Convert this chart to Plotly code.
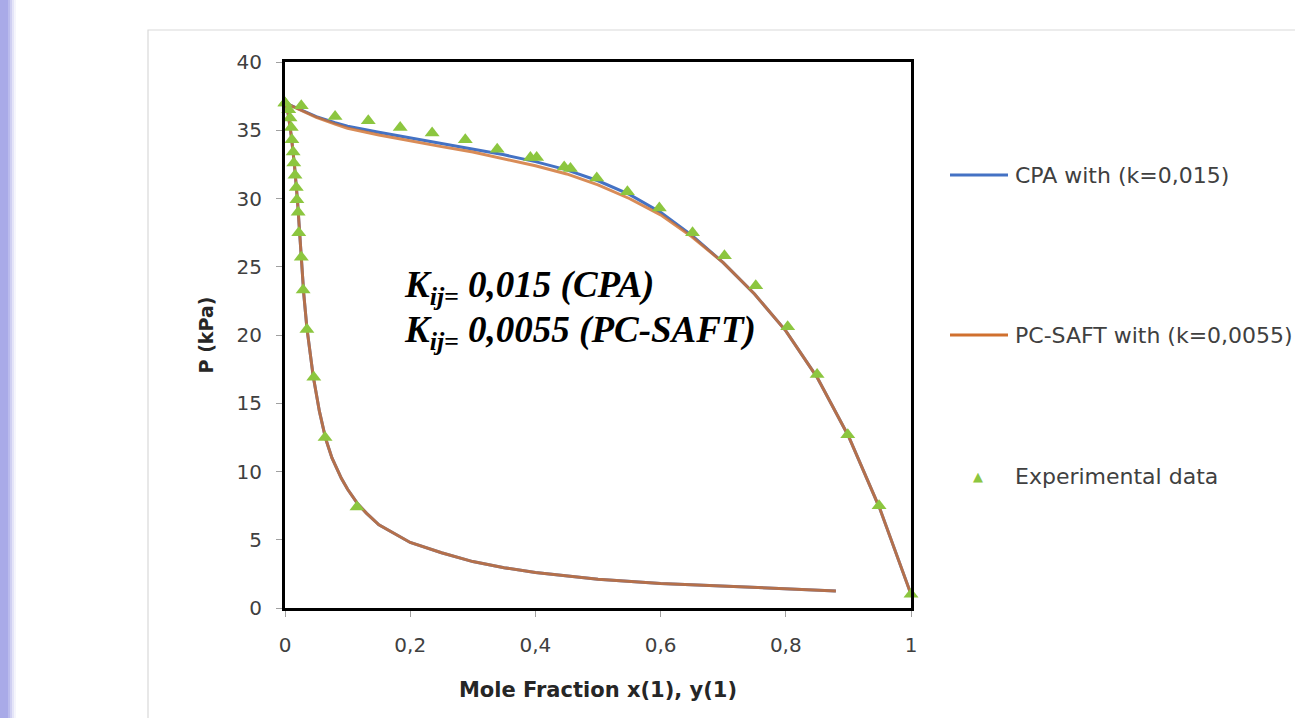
import plotly.graph_objects as go

# ---- Model curves: bubble branch P(x1) ----
bub_x = [0.0, 0.02, 0.05, 0.08, 0.10, 0.15, 0.20, 0.25, 0.30, 0.35, 0.40, 0.45,
         0.50, 0.55, 0.60, 0.65, 0.70, 0.75, 0.80, 0.85, 0.90, 0.95, 1.0]
cpa_bub_p = [37.0, 36.6, 36.0, 35.55, 35.3, 34.85, 34.45, 34.05, 33.65, 33.2, 32.7, 32.1,
             31.3, 30.3, 29.0, 27.3, 25.3, 23.0, 20.3, 16.9, 12.6, 7.3, 1.0]
saft_bub_p = [37.0, 36.6, 35.95, 35.45, 35.15, 34.65, 34.2, 33.8, 33.4, 32.9, 32.4, 31.8,
              31.0, 30.0, 28.8, 27.2, 25.3, 23.0, 20.3, 16.9, 12.6, 7.3, 1.0]

# ---- Model curves: dew branch P(y1) ----
dew_y = [0.0, 0.005, 0.01, 0.015, 0.02, 0.025, 0.03, 0.035, 0.045, 0.055, 0.065, 0.075,
         0.09, 0.10, 0.115, 0.13, 0.15, 0.20, 0.25, 0.30, 0.35, 0.40, 0.50, 0.60, 0.70,
         0.80, 0.88]
cpa_dew_p = [37.0, 36.2, 34.6, 32.5, 29.8, 26.3, 23.0, 20.5, 17.0, 14.4, 12.4, 11.0,
             9.5, 8.7, 7.7, 6.95, 6.1, 4.8, 4.05, 3.4, 2.95, 2.6, 2.1, 1.8, 1.6,
             1.4, 1.25]
saft_dew_p = [37.0, 36.2, 34.6, 32.5, 29.8, 26.3, 23.0, 20.5, 17.0, 14.4, 12.4, 11.0,
              9.5, 8.7, 7.7, 6.95, 6.1, 4.8, 4.05, 3.4, 2.95, 2.6, 2.1, 1.8, 1.6,
              1.4, 1.25]

# ---- Experimental data ----
exp_bub_x = [0.0, 0.026, 0.08, 0.133, 0.184, 0.235, 0.288, 0.339, 0.392, 0.402, 0.446,
             0.456, 0.498, 0.547, 0.598, 0.651, 0.702, 0.752, 0.803, 0.85, 0.899, 0.949, 1.0]
exp_bub_p = [37.0, 36.8, 36.0, 35.7, 35.2, 34.8, 34.3, 33.6, 33.0, 33.0, 32.3,
             32.2, 31.5, 30.5, 29.3, 27.5, 25.8, 23.6, 20.6, 17.1, 12.7, 7.5, 1.0]
exp_dew_y = [0.0, 0.006, 0.008, 0.010, 0.011, 0.013, 0.014, 0.016, 0.018, 0.019, 0.021,
             0.022, 0.026, 0.029, 0.035, 0.046, 0.064, 0.115]
exp_dew_p = [37.0, 36.5, 35.9, 35.2, 34.3, 33.4, 32.6, 31.7, 30.8, 29.9, 29.0,
             27.5, 25.7, 23.3, 20.4, 16.9, 12.5, 7.4]

x_ticks = [0, 0.2, 0.4, 0.6, 0.8, 1]
x_tick_text = ["0", "0,2", "0,4", "0,6", "0,8", "1"]
y_ticks = [0, 5, 10, 15, 20, 25, 30, 35, 40]

legend_labels = ["CPA with (k=0,015)", "PC-SAFT with (k=0,0055)", "Experimental data"]

BLUE = "#4472C4"
ORANGE = "#D0702E"
GREEN = "#8CC63F"

W, H = 1295, 718
L, R, T, B = 285, 911, 62, 608   # plot area edges in pixels


def px(xp):
    return (xp - L) / (R - L)


def py(yp):
    return (B - yp) / (B - T)


fig = go.Figure()

fig.add_trace(go.Scatter(
    x=bub_x + [None] + dew_y, y=cpa_bub_p + [None] + cpa_dew_p,
    mode="lines", line=dict(color=BLUE, width=3), name=legend_labels[0],
    showlegend=False, cliponaxis=False))
fig.add_trace(go.Scatter(
    x=bub_x + [None] + dew_y, y=saft_bub_p + [None] + saft_dew_p,
    mode="lines", line=dict(color=ORANGE, width=3), opacity=0.8, name=legend_labels[1],
    showlegend=False, cliponaxis=False))
fig.add_trace(go.Scatter(
    x=exp_bub_x + exp_dew_y, y=exp_bub_p + exp_dew_p,
    mode="markers", marker=dict(symbol="triangle-up", size=13, color=GREEN),
    name=legend_labels[2], showlegend=False, cliponaxis=False))

shapes = []
# soft lavender strip along the left page edge
strip = [(0, 8, 1.0), (8, 10, 0.8), (10, 12, 0.55), (12, 14, 0.3), (14, 16, 0.12)]
for x0, x1, op in strip:
    shapes.append(dict(type="rect", xref="paper", yref="paper",
                       x0=px(x0), x1=px(x1), y0=py(H), y1=py(0),
                       fillcolor="#A9AAE8", opacity=op, line=dict(width=0), layer="below"))
# chart-area frame
shapes.append(dict(type="rect", xref="paper", yref="paper",
                   x0=px(148), x1=px(W + 5), y0=py(H + 5), y1=py(30),
                   line=dict(color="#D9D9D9", width=1.2), fillcolor="rgba(0,0,0,0)",
                   layer="below"))
# legend keys
shapes.append(dict(type="line", xref="paper", yref="paper",
                   x0=px(950), x1=px(1008), y0=py(175), y1=py(175),
                   line=dict(color=BLUE, width=3)))
shapes.append(dict(type="line", xref="paper", yref="paper",
                   x0=px(950), x1=px(1008), y0=py(335), y1=py(335),
                   line=dict(color=ORANGE, width=3)))

legend_font = dict(family="DejaVu Sans", size=22, color="#404040")
kij_font = dict(family="Liberation Serif", size=37, color="black")
annotations = [
    dict(xref="paper", yref="paper", x=px(1013), y=py(175), xanchor="left", yanchor="middle",
         text=legend_labels[0], showarrow=False, font=legend_font),
    dict(xref="paper", yref="paper", x=px(1013), y=py(335), xanchor="left", yanchor="middle",
         text=legend_labels[1], showarrow=False, font=legend_font),
    dict(xref="paper", yref="paper", x=px(1013), y=py(476), xanchor="left", yanchor="middle",
         text=legend_labels[2], showarrow=False, font=legend_font),
    dict(xref="paper", yref="paper", x=px(978), y=py(476), xanchor="center", yanchor="middle",
         text="▲", showarrow=False, font=dict(family="DejaVu Sans", size=13, color=GREEN)),
    # binary interaction parameters
    dict(xref="paper", yref="paper", x=px(402), y=py(287), xanchor="left", yanchor="middle",
         text="<b><i>K<sub>ij=</sub> 0,015 (CPA)</i></b>", showarrow=False, font=kij_font),
    dict(xref="paper", yref="paper", x=px(402), y=py(332), xanchor="left", yanchor="middle",
         text="<b><i>K<sub>ij=</sub> 0,0055 (PC-SAFT)</i></b>", showarrow=False, font=kij_font),
]

tick_font = dict(family="DejaVu Sans", size=20, color="#404040")

fig.update_layout(
    width=W, height=H,
    margin=dict(l=L, r=W - R, t=T, b=H - B),
    paper_bgcolor="white", plot_bgcolor="white",
    showlegend=False,
    shapes=shapes, annotations=annotations,
    xaxis=dict(range=[0, 1], tickvals=x_ticks, ticktext=x_tick_text,
               showgrid=False, zeroline=False,
               showline=True, linecolor="black", linewidth=3, mirror=True,
               ticks="outside", ticklen=6, tickcolor="#A0A0A0", tickwidth=1,
               tickfont=tick_font, ticklabelstandoff=11,
               title=dict(text="<b>Mole Fraction x(1), y(1)</b>",
                          font=dict(family="DejaVu Sans", size=21, color="#262626"),
                          standoff=27)),
    yaxis=dict(range=[0, 40], tickvals=y_ticks,
               showgrid=False, zeroline=False,
               showline=True, linecolor="black", linewidth=3, mirror=True,
               ticks="outside", ticklen=6, tickcolor="#A0A0A0", tickwidth=1,
               tickfont=tick_font, ticklabelstandoff=10,
               title=dict(text="<b>P (kPa)</b>",
                          font=dict(family="DejaVu Sans", size=19, color="#262626"),
                          standoff=18)),
)

fig.write_html("out.html")
